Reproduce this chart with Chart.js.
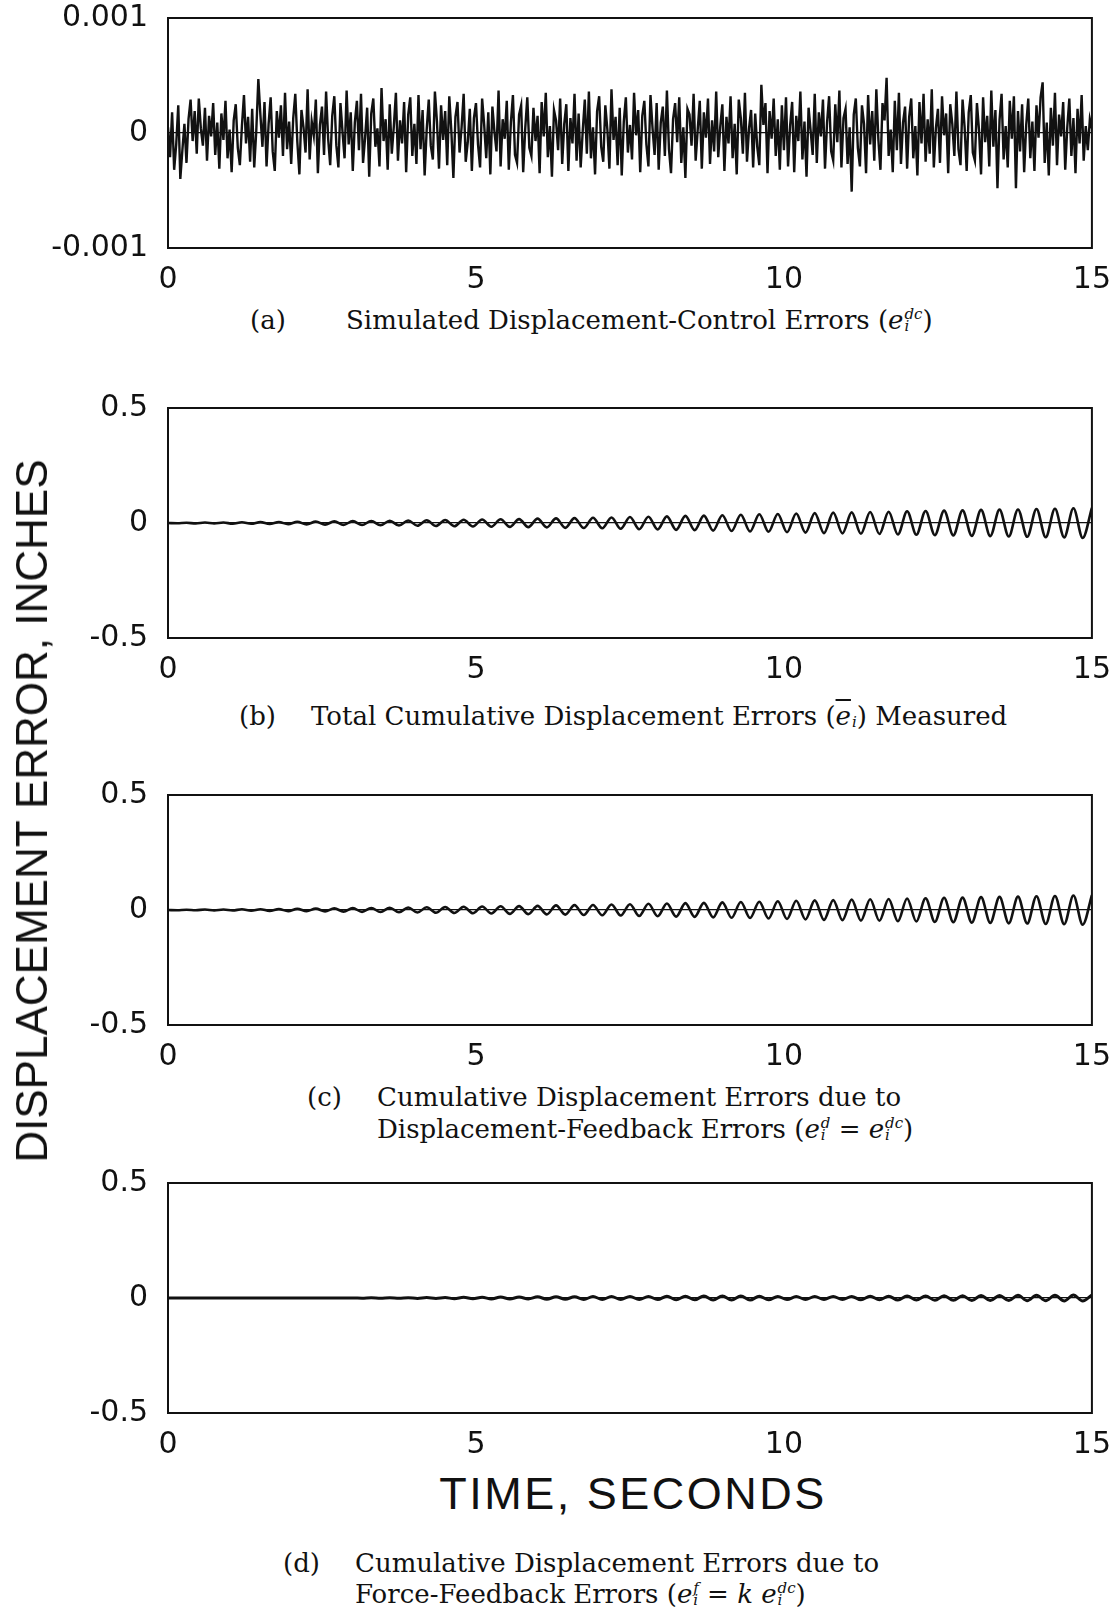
<!DOCTYPE html>
<html><head><meta charset="utf-8">
<script src="https://cdn.jsdelivr.net/npm/chart.js@4/dist/chart.umd.min.js"></script>
<style>
body{margin:0;width:1117px;height:1610px;background:#fff;position:relative;overflow:hidden;font-family:"DejaVu Serif","Liberation Serif",serif;color:#111}
canvas.p{position:absolute;left:0}
.lab{position:absolute;font-size:26px;line-height:30px;height:30px;white-space:nowrap;transform:translateY(-50%)}
.st{display:inline-flex;flex-direction:column;vertical-align:10px;font-size:15px;line-height:12px;font-style:italic;margin-left:1px}
.ytitle{position:absolute;left:32px;top:811px;transform:translate(-50%,-50%) rotate(-90deg);font-family:"Liberation Sans",Arial,sans-serif;font-size:44px;letter-spacing:0px;white-space:nowrap}
.xtitle{position:absolute;left:633px;top:1494px;transform:translate(-50%,-50%);font-family:"Liberation Sans",Arial,sans-serif;font-size:45px;letter-spacing:2.5px;white-space:nowrap}
</style></head>
<body>
<canvas id="ca" class="p" width="1117" height="320" style="top:-20px"></canvas>
<canvas id="cb" class="p" width="1117" height="320" style="top:370px"></canvas>
<canvas id="cc" class="p" width="1117" height="320" style="top:757px"></canvas>
<canvas id="cd" class="p" width="1117" height="320" style="top:1145px"></canvas>

<div class="lab" style="left:250px;top:320px">(a)</div>
<div class="lab" style="left:346px;top:320px">Simulated Displacement-Control Errors (<i>e</i><span class="st"><span>dc</span><span>i</span></span>)</div>

<div class="lab" style="left:239px;top:716px">(b)</div>
<div class="lab" style="left:311px;top:716px">Total Cumulative Displacement Errors (<i style="text-decoration:overline">e</i><span class="st"><span>&nbsp;</span><span>i</span></span>) Measured</div>

<div class="lab" style="left:307px;top:1097px">(c)</div>
<div class="lab" style="left:377px;top:1097px">Cumulative Displacement Errors due to</div>
<div class="lab" style="left:377px;top:1129px">Displacement-Feedback Errors (<i>e</i><span class="st"><span>d</span><span>i</span></span> = <i>e</i><span class="st"><span>dc</span><span>i</span></span>)</div>

<div class="lab" style="left:283px;top:1563px">(d)</div>
<div class="lab" style="left:355px;top:1563px">Cumulative Displacement Errors due to</div>
<div class="lab" style="left:355px;top:1594px">Force-Feedback Errors (<i>e</i><span class="st"><span>f</span><span>i</span></span> = <i>k</i> <i>e</i><span class="st"><span>dc</span><span>i</span></span>)</div>

<div class="ytitle">DISPLACEMENT ERROR, INCHES</div>
<div class="xtitle">TIME, SECONDS</div>

<script>
// ---- tick labels ----
const X_TICKS = ['0', '5', '10', '15'];
const Y_TICKS_A = ['-0.001', '0', '0.001'];
const Y_TICKS_BCD = ['-0.5', '0', '0.5'];

// ---- (a) simulated displacement-control errors, units of 1e-4 in, sampled every 15/450 s ----
const DT_A = 15 / 450;
const UNIT_A = 1e-4;
const ERR_A = [
 0.5,-2.1,1.8,-3.2,-1.0,2.4,-4.0,-1.5,0.8,-2.6,1.2,2.9,-0.7,1.9,-1.8,3.0,0.4,-1.1,2.2,-2.4,1.5,-0.3,2.6,-1.9,0.9,-3.1,1.7,-0.6,2.8,-2.2,
 0.3,-3.4,1.1,2.5,-1.3,-2.8,0.6,3.3,-0.9,1.4,-2.5,2.1,-3.0,0.2,4.7,1.6,-1.2,2.7,-2.9,0.8,3.1,-1.6,-3.3,1.9,-0.4,2.4,-2.0,3.5,-1.4,1.0,
 -2.7,1.3,3.4,-0.8,-3.6,2.0,0.5,-1.7,3.8,-2.3,1.0,-0.2,2.9,-3.5,0.7,2.3,-1.9,3.6,-0.5,-2.8,1.5,3.2,-1.1,-3.0,2.6,0.1,-2.2,3.7,-1.0,1.8,
 -3.3,0.9,2.8,-1.5,3.4,-2.6,-0.4,2.2,-3.8,1.7,3.0,-1.2,0.4,-2.9,3.9,-0.7,1.2,-3.2,2.5,-1.8,0.6,3.5,-2.4,1.1,-0.9,2.7,-3.4,1.6,3.1,-2.0,
 0.8,-2.7,3.3,-1.4,2.0,-3.7,0.3,2.9,-1.1,-2.3,3.6,1.0,-3.1,2.4,-0.6,1.9,-2.8,3.2,0.2,-3.9,1.4,2.7,-1.7,0.5,3.4,-2.5,-0.8,2.1,-3.3,1.3,
 2.6,-1.0,-3.0,3.0,0.7,-2.2,1.8,-3.6,2.3,0.1,-1.6,3.7,-2.9,1.2,-0.5,2.8,-3.2,0.9,3.3,-1.9,-2.6,1.6,2.4,-3.4,0.4,3.1,-1.3,-2.0,2.2,-0.7,
 1.5,-3.5,2.7,-0.3,3.5,-2.1,0.6,-3.8,2.0,1.1,-1.5,3.0,-2.7,0.8,2.5,-3.3,1.3,-0.9,3.4,-2.4,1.7,-3.0,0.2,2.9,-1.8,3.6,-2.2,0.5,-3.6,1.9,
 3.2,-1.2,-2.5,2.4,0.3,-3.1,3.8,-0.6,1.4,-2.8,2.2,-3.7,1.0,3.1,-1.7,0.7,-2.3,3.5,-0.2,2.0,-3.4,1.5,2.8,-1.0,-2.9,3.3,0.4,-1.9,2.6,-3.2,
 0.9,2.3,-2.0,3.7,-1.4,-3.5,1.2,2.6,-0.8,3.1,-2.6,0.5,-3.9,2.1,1.6,-1.1,3.4,-2.4,0.3,2.8,-3.1,1.8,-0.4,3.0,-2.7,1.1,-1.6,3.6,-2.1,0.6,
 2.5,-3.3,1.4,-0.9,3.2,-2.2,0.8,-3.6,2.9,1.3,-1.8,3.5,-2.5,0.4,2.0,-3.0,1.7,-1.2,-2.8,4.2,0.7,2.6,-3.5,1.9,-0.5,3.0,-2.0,1.2,-3.2,2.4,
 -1.5,3.1,-2.9,0.6,2.7,-3.4,1.5,-0.7,3.6,-2.3,1.0,-3.8,2.2,0.2,-1.9,3.4,-2.6,1.8,-0.3,2.9,-3.1,0.9,3.2,-1.6,-2.4,2.5,-0.8,3.7,-3.0,1.3,
 2.1,-2.7,0.5,-5.1,1.6,3.0,-1.3,-2.9,2.4,0.8,-3.5,3.3,-1.0,1.9,-2.4,3.8,-0.6,-3.2,2.6,1.1,4.8,-2.0,0.3,-3.4,2.8,-1.5,3.5,-2.7,0.9,2.3,
 -3.1,1.4,3.0,-2.2,0.6,-3.7,2.7,-0.9,3.4,-2.5,1.2,-1.8,3.8,-3.0,0.4,2.1,-2.6,3.2,-0.2,1.7,-3.5,2.5,0.8,-2.0,3.6,-1.4,-2.8,2.9,0.5,-3.3,
 1.8,3.3,-1.7,-2.4,2.6,0.3,-3.6,3.1,-0.8,1.5,-2.9,3.7,-1.2,2.0,-4.8,1.1,3.4,-2.3,0.6,-3.0,2.8,-0.5,3.2,-4.8,1.9,-1.6,2.5,-3.4,0.7,3.0,
 -2.2,1.0,-3.3,2.4,-0.4,3.1,4.4,-2.6,0.9,-3.7,2.2,-1.1,3.5,-2.8,1.6,-0.3,2.7,-3.2,0.5,3.0,-2.0,1.3,-3.5,2.1,-0.9,3.3,-2.4,0.6,-1.5,1.2,
 0.4
];

// ---- (b),(c),(d) successive peak / trough values (inches), one every half cycle ----
const HALF_CYCLE = 0.15;
const PEAKS_B = [
 0,
 -0.001,0.001,-0.002,0.002,-0.002,0.002,-0.003,0.003,-0.003,0.004,
 -0.004,0.004,-0.005,0.005,-0.006,0.006,-0.007,0.007,-0.008,0.008,
 -0.009,0.009,-0.010,0.010,-0.011,0.011,-0.012,0.012,-0.013,0.013,
 -0.014,0.014,-0.015,0.015,-0.016,0.016,-0.017,0.017,-0.018,0.019,
 -0.019,0.020,-0.021,0.021,-0.022,0.023,-0.023,0.024,-0.025,0.026,
 -0.027,0.027,-0.028,0.029,-0.030,0.031,-0.031,0.032,-0.033,0.034,
 -0.035,0.036,-0.037,0.038,-0.038,0.039,-0.040,0.041,-0.042,0.043,
 -0.044,0.045,-0.045,0.046,-0.047,0.048,-0.048,0.049,-0.050,0.051,
 -0.051,0.052,-0.053,0.054,-0.054,0.055,-0.056,0.057,-0.057,0.058,
 -0.059,0.059,-0.060,0.061,-0.062,0.062,-0.063,0.064,-0.065,0.066
];
const PEAKS_C = [
 0,
 -0.001,0.001,-0.001,0.002,-0.002,0.002,-0.002,0.003,-0.003,0.003,
 -0.004,0.004,-0.005,0.005,-0.005,0.006,-0.006,0.007,-0.007,0.008,
 -0.008,0.009,-0.009,0.010,-0.010,0.011,-0.011,0.012,-0.012,0.013,
 -0.013,0.014,-0.014,0.015,-0.015,0.016,-0.017,0.017,-0.018,0.018,
 -0.019,0.020,-0.020,0.021,-0.022,0.022,-0.023,0.024,-0.024,0.025,
 -0.026,0.027,-0.027,0.028,-0.029,0.030,-0.030,0.031,-0.032,0.033,
 -0.034,0.035,-0.035,0.036,-0.037,0.038,-0.039,0.040,-0.041,0.042,
 -0.043,0.043,-0.044,0.045,-0.046,0.047,-0.047,0.048,-0.049,0.050,
 -0.050,0.051,-0.052,0.053,-0.053,0.054,-0.055,0.056,-0.056,0.057,
 -0.058,0.058,-0.059,0.060,-0.061,0.061,-0.062,0.063,-0.064,0.065
];
const PEAKS_D = [
 0,
 0,0,0,0,0,0,0,0,0,0,
 0,0,0,0,0,0,0,0,0,0,
 -0.001,0.001,-0.001,0.001,-0.001,0.001,-0.002,0.002,-0.002,0.002,
 -0.003,0.003,-0.003,0.003,-0.004,0.004,-0.004,0.004,-0.004,0.005,
 -0.005,0.005,-0.005,0.005,-0.006,0.006,-0.006,0.006,-0.006,0.007,
 -0.007,0.007,-0.007,0.008,-0.008,0.008,-0.008,0.009,-0.009,0.009,
 -0.009,0.009,-0.009,0.008,-0.008,0.007,-0.007,0.006,-0.006,0.006,
 -0.006,0.007,-0.007,0.007,-0.008,0.008,-0.008,0.008,-0.009,0.009,
 -0.009,0.009,-0.010,0.010,-0.010,0.010,-0.011,0.011,-0.011,0.011,
 -0.011,0.012,-0.012,0.012,-0.012,0.012,-0.013,0.013,-0.013,0.013
];

const INK = '#111';
const frame = {
  id: 'frame',
  afterDatasetsDraw(chart) {
    const a = chart.chartArea, c = chart.ctx;
    c.save(); c.strokeStyle = INK; c.lineWidth = 2;
    c.strokeRect(a.left, a.top, a.right - a.left, a.bottom - a.top);
    c.restore();
  }
};

function makeChart(id, points, yMax, yLabels, lineWidth, smooth) {
  new Chart(document.getElementById(id), {
    type: 'line',
    data: { datasets: [{
      data: points,
      borderColor: INK, borderWidth: lineWidth,
      pointRadius: 0, fill: false,
      tension: smooth ? 0.4 : 0,
      cubicInterpolationMode: smooth ? 'monotone' : 'default'
    }]},
    options: {
      responsive: false, animation: false, devicePixelRatio: 1,
      parsing: false, normalized: true,
      layout: { padding: { top: 0, right: 24, left: 0, bottom: 0 } },
      plugins: { legend: { display: false }, tooltip: { enabled: false } },
      scales: {
        x: {
          type: 'linear', min: 0, max: 15,
          ticks: { stepSize: 5, padding: 6, color: INK, maxRotation: 0,
                   font: { family: 'DejaVu Sans', size: 30, lineHeight: 1.2 },
                   callback: (v, i) => X_TICKS[i] },
          grid: { display: false }, border: { display: false },
          afterFit: s => { s.height = 52; }
        },
        y: {
          min: -yMax, max: yMax,
          ticks: { stepSize: yMax, padding: 20, color: INK,
                   font: { family: 'DejaVu Sans', size: 30, lineHeight: 1.2 },
                   callback: (v, i) => yLabels[i] },
          grid: { drawTicks: false, lineWidth: 1.3,
                  color: c => (c.tick && Math.abs(c.tick.value) < yMax * 1e-6) ? INK : 'rgba(0,0,0,0)' },
          border: { display: false },
          afterFit: s => { s.width = 168; }
        }
      }
    },
    plugins: [frame]
  });
}

const ptsA = ERR_A.map((v, i) => ({ x: i * DT_A, y: v * UNIT_A }));
const toPts = arr => arr.map((v, i) => ({ x: i * HALF_CYCLE, y: v }));

makeChart('ca', ptsA, 0.001, Y_TICKS_A, 2.4, false);
makeChart('cb', toPts(PEAKS_B), 0.5, Y_TICKS_BCD, 2.6, true);
makeChart('cc', toPts(PEAKS_C), 0.5, Y_TICKS_BCD, 2.6, true);
makeChart('cd', toPts(PEAKS_D), 0.5, Y_TICKS_BCD, 3, true);
</script>
</body></html>
